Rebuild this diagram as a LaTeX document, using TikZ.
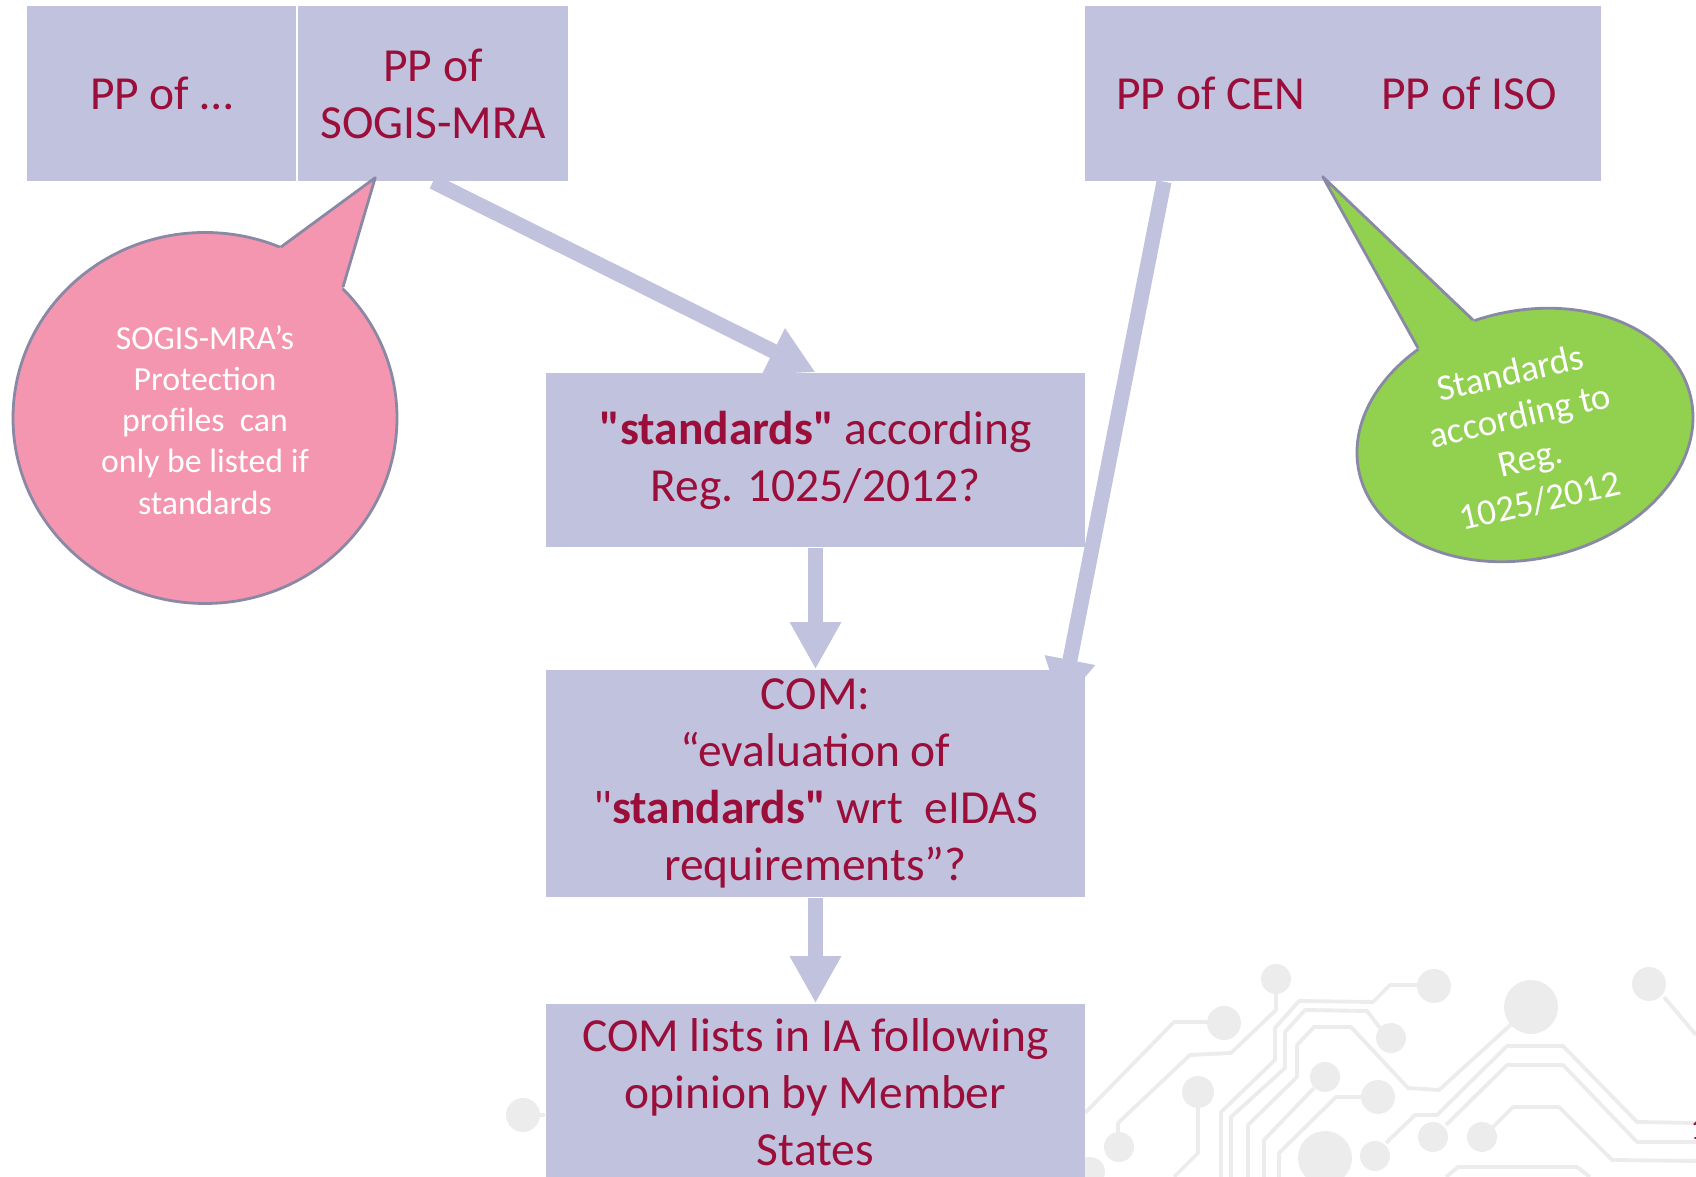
\documentclass[tikz,border=0pt]{standalone}
\usepackage{fontspec}
\setmainfont{Carlito}[Ligatures=TeXOff]
\usetikzlibrary{arrows.meta,calc}
\definecolor{boxc}{RGB}{192,194,222}
\definecolor{txtc}{RGB}{155,14,58}
\definecolor{pinkc}{RGB}{245,150,176}
\definecolor{greenc}{RGB}{146,208,80}
\definecolor{bordc}{RGB}{137,137,165}
\definecolor{circc}{RGB}{236,236,236}
\tikzset{
  box/.style={fill=boxc, text=txtc, align=center, inner sep=0pt, font=\fontsize{13.5}{16.2}\selectfont},
  flow/.style={draw=boxc, line width=0.15cm, -{Triangle[width=0.48cm,length=0.47cm]}},
  trace/.style={draw=circc, line width=1.1pt, line join=round},
  pad/.style={fill=circc},
  bubble/.style={draw=bordc, line width=0.8pt, line join=round},
  bubbletxt/.style={text=white, align=center, inner sep=0pt},
}
\begin{document}
\begin{tikzpicture}[x=0.01cm,y=-0.01cm]
\useasboundingbox (0,0) rectangle (1696,1177);
\clip (0,0) rectangle (1696,1177);
% circuit decoration
\draw[trace] (1085,1113) -- (1174,1022) -- (1207,1022);
\draw[trace] (1276,993) -- (1276,1010) -- (1231,1053) -- (1190,1055) -- (1118,1123) -- (1118,1133);
\draw[trace] (1417,985) -- (1390,985) -- (1373,1002) -- (1299,1001) -- (1275,1028) -- (1275,1060) -- (1221,1112) -- (1221,1177);
\draw[trace] (1380,1028) -- (1367,1011) -- (1305,1010) -- (1285,1032) -- (1285,1068) -- (1231,1117) -- (1231,1177);
\draw[trace] (1516,1020) -- (1439,1090) -- (1408,1088) -- (1351,1027) -- (1314,1027) -- (1297,1045) -- (1297,1077) -- (1248,1125) -- (1248,1177);
\draw[trace] (1198,1107) -- (1198,1153) -- (1174,1177);
\draw[trace] (1314,1088) -- (1264,1140) -- (1264,1177);
\draw[trace] (1361,1097) -- (1336,1097) -- (1279,1153) -- (1279,1177);
\draw[trace] (1386,1143) -- (1415,1115) -- (1437,1115) -- (1507,1046) -- (1563,1046) -- (1637,1122) -- (1696,1123);
\draw[trace] (1446,1125) -- (1507,1065) -- (1563,1065) -- (1637,1142) -- (1696,1142);
\draw[trace] (1493,1127) -- (1513,1107) -- (1559,1107) -- (1612,1160) -- (1696,1161);
\draw[trace] (1446,1177) -- (1458,1167) -- (1577,1167) -- (1590,1177);
\draw[trace] (1664,997) -- (1696,1035);
\draw[trace] (545,1115) -- (523,1115);
\fill[pad] (1276,979) circle[radius=15];
\fill[pad] (1224,1023) circle[radius=17];
\fill[pad] (1434,986) circle[radius=17];
\fill[pad] (1391,1038) circle[radius=15];
\fill[pad] (1531,1007) circle[radius=27];
\fill[pad] (1649,984) circle[radius=17];
\fill[pad] (1198,1092) circle[radius=16];
\fill[pad] (1325,1077) circle[radius=15];
\fill[pad] (1378,1097) circle[radius=17];
\fill[pad] (1119,1147) circle[radius=15];
\fill[pad] (1433,1137) circle[radius=15];
\fill[pad] (1482,1137) circle[radius=15];
\fill[pad] (1375,1156) circle[radius=15];
\fill[pad] (1325,1158) circle[radius=27];
\fill[pad] (1090,1172) circle[radius=15];
\fill[pad] (523,1115) circle[radius=17];
% boxes
\node[box, minimum width=2.69cm, minimum height=1.745cm] (ppx) at (161.5,93.75) {PP of …};
\node[box, minimum width=2.70cm, minimum height=1.745cm] (sogis) at (433,93.75) {PP of\\SOGIS-MRA};
\node[box, minimum width=2.52cm, minimum height=1.745cm] (cen) at (1211,93.75) {PP of CEN};
\node[box, minimum width=2.64cm, minimum height=1.745cm] (iso) at (1469,93.75) {PP of ISO};
\coordinate (c4s) at ($(cen.south)+(-47,0)$);
\path (815.5,460) coordinate (q1c) (815.5,783.5) coordinate (q2c);
\node[box, minimum width=5.39cm, minimum height=1.74cm] (q1) at (q1c) {\textbf{"standards"} according\\Reg. 1025/2012?};
\node[box, minimum width=5.39cm, minimum height=2.27cm] (q2) at (q2c) {COM:\\“evaluation of\\"\textbf{standards"} wrt~ eIDAS\\requirements”?};
\node[box, minimum width=5.39cm, minimum height=1.76cm] (q3) at (815.5,1092) {COM lists in IA following\\opinion by Member\\States};
\coordinate (c4e) at ($(q2.north east)+(-25,37)$);
% arrows
\draw[flow] (sogis.south) -- (q1.north);
\draw[flow] (q1.south) -- (q2.north);
\draw[flow] (q2.south) -- (q3.north);
\draw[flow] (c4s) -- (c4e);
% pink bubble
\coordinate (pc) at (205,418);
\coordinate (pb1) at (281,247);
\coordinate (ptip) at ($(sogis.south west)+(78,-4)$);
\coordinate (pb2) at (343,287);
\draw[bubble, fill=pinkc] (pc) ellipse [x radius=192, y radius=185.5];
\fill[pinkc] ($(ptip)!1.12!(pb1)$) -- (ptip) -- ($(ptip)!1.12!(pb2)$) -- cycle;
\draw[bubble] (pb1) -- (ptip) -- (pb2);
\node[bubbletxt, font=\fontsize{9.6}{11.7}\selectfont] (ptxt) at (205,420) {SOGIS-MRA’s\\Protection\\profiles~ can\\only be listed if\\standards};
% green bubble
\coordinate (gc) at (1525,435);
\coordinate (gb1) at (1418,348);
\coordinate (gtip) at ($(cen.south east)+(-15,-5)$);
\coordinate (gb2) at (1473,320);
\draw[bubble, fill=greenc, rotate around={13:(gc)}] (gc) ellipse [x radius=170, y radius=124];
\fill[greenc] ($(gtip)!1.1!(gb1)$) -- (gtip) -- ($(gtip)!1.1!(gb2)$) -- cycle;
\draw[bubble] (gb1) -- (gtip) -- (gb2);
\node[bubbletxt, font=\fontsize{10.5}{12.4}\selectfont, rotate=13] (gtxt) at (1525,437) {Standards\\according to\\Reg.\\1025/2012};
% page number fragment
\node[text=txtc, font=\fontsize{9}{10}\selectfont, anchor=base west, inner sep=0pt] (pnum) at (1690,1140) {1};
\end{tikzpicture}
\end{document}
